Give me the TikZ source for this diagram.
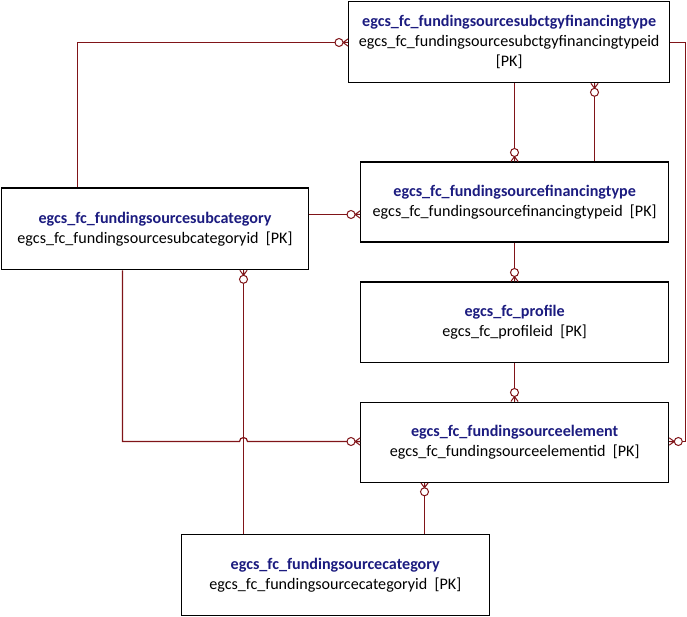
\documentclass[tikz,border=0pt]{standalone}
\usepackage{fontspec}
\setmainfont{Carlito}
\usetikzlibrary{decorations.markings}
\definecolor{relred}{RGB}{128,20,24}
\definecolor{titleblue}{RGB}{28,28,128}
\begin{document}
\begin{tikzpicture}[x=1pt,y=-1pt,
  entity/.style={draw=black, line width=1.3pt, fill=white, inner sep=0pt,
    anchor=north west, align=center, font=\fontsize{16.1}{20}\selectfont},
  rel/.style={draw=relred, line width=1.2pt},
  zmany/.style={postaction={decorate}, decoration={markings,
    mark=at position 1 with {
      \draw[relred, line width=1pt] (-5,0) -- (0,3.6) (-5,0) -- (0,-3.6) (-5,0) -- (0,0);
      \draw[relred, line width=1pt, fill=white] (-9,0) circle (4);
    }}}
]
\useasboundingbox (0,0) rectangle (687,617);

% entities
\node[entity, minimum width=321pt, minimum height=81pt] (A) at (348,1)
  {\textcolor{titleblue}{\textbf{egcs\_fc\_fundingsourcesubctgyfinancingtype}}\\
   egcs\_fc\_fundingsourcesubctgyfinancingtypeid\\ {}[PK]};
\node[entity, minimum width=308pt, minimum height=80pt] (B) at (360,161.5)
  {\textcolor{titleblue}{\textbf{egcs\_fc\_fundingsourcefinancingtype}}\\
   egcs\_fc\_fundingsourcefinancingtypeid\ \ [PK]};
\node[entity, minimum width=307.5pt, minimum height=81.5pt] (C) at (0.6,187.5)
  {\textcolor{titleblue}{\textbf{egcs\_fc\_fundingsourcesubcategory}}\\
   egcs\_fc\_fundingsourcesubcategoryid\ \ [PK]};
\node[entity, minimum width=308pt, minimum height=80pt] (D) at (360,281.5)
  {\textcolor{titleblue}{\textbf{egcs\_fc\_profile}}\\
   egcs\_fc\_profileid\ \ [PK]};
\node[entity, minimum width=308pt, minimum height=80pt] (E) at (360,401.5)
  {\textcolor{titleblue}{\textbf{egcs\_fc\_fundingsourceelement}}\\
   egcs\_fc\_fundingsourceelementid\ \ [PK]};
\node[entity, minimum width=308pt, minimum height=81pt] (F) at (180.6,534)
  {\textcolor{titleblue}{\textbf{egcs\_fc\_fundingsourcecategory}}\\
   egcs\_fc\_fundingsourcecategoryid\ \ [PK]};

% relationships (zero-or-many end at the child side)
\draw[rel, zmany] (C.north -| 77.5,0) -- (77.5,42.5) -- (A.west |- 0,42.5);
\draw[rel, zmany] (A.south -| 514.5,0) -- (B.north -| 514.5,0);
\draw[rel, zmany] (B.north -| 594.5,0) -- (A.south -| 594.5,0);
\draw[rel, zmany] (C.east |- 0,214.5) -- (B.west |- 0,214.5);
\draw[rel, zmany] (B.south -| 514.5,0) -- (D.north -| 514.5,0);
\draw[rel, zmany] (D.south -| 514.5,0) -- (E.north -| 514.5,0);
\draw[rel, zmany] (A.east |- 0,42.5) -- (685.5,42.5) -- (685.5,441.5) -- (E.east |- 0,441.5);
\draw[rel, zmany] (C.south -| 122.5,0) -- (122.5,441.5) -- (239.5,441.5)
  arc[start angle=180, end angle=360, radius=4] -- (E.west |- 0,441.5);
\draw[rel, zmany] (F.north -| 243.5,0) -- (C.south -| 243.5,0);
\draw[rel, zmany] (F.north -| 424.5,0) -- (E.south -| 424.5,0);
\end{tikzpicture}
\end{document}
